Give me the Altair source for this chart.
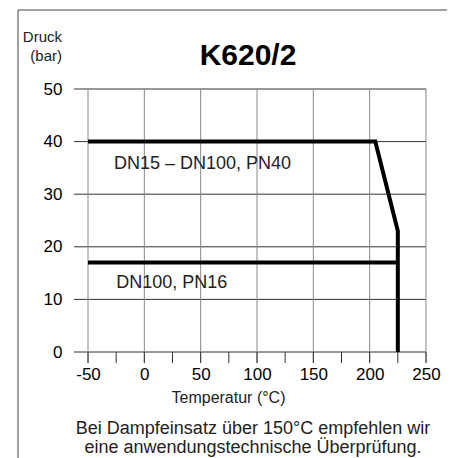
import altair as alt
import pandas as pd

# data
pn40_temp = [-50, 205, 225, 225]
pn40_press = [40, 40, 23, 0]
pn16_temp = [-50, 225]
pn16_press = [17, 17]
x_ticks = [-50, -25, 0, 25, 50, 75, 100, 125, 150, 175, 200, 225, 250]
x_grid = [-50, 0, 50, 100, 150, 200, 250]
y_ticks = [0, 10, 20, 30, 40, 50]
label_texts = ["DN15 – DN100, PN40", "DN100, PN16"]
label_x = [-27, -25]
label_y = [35.8, 13.1]
title_text = "K620/2"
ytitle_lines = ["Druck", "(bar)"]
footnote = ["Bei Dampfeinsatz über 150°C empfehlen wir", "eine anwendungstechnische Überprüfung."]

FONT = "Liberation Sans"
W, H = 338, 263
XTICK, YTICK = 11, 14

xs = alt.Scale(domain=[-50, 250], nice=False, zero=False)
ys = alt.Scale(domain=[0, 50], nice=False, zero=False)

x_axis = alt.Axis(values=x_ticks, ticks=False, domain=False, grid=False,
                  labelFontSize=17, labelFont=FONT, labelColor="#000",
                  labelPadding=XTICK + 3,
                  labelExpr="(datum.value % 50 == 0) ? ('' + datum.value) : ''",
                  labelFlush=False, labelOverlap=False,
                  title="Temperatur (°C)", titleFont=FONT, titleFontSize=16,
                  titleFontWeight="normal", titleColor="#222",
                  titleX=140, titleY=45, titleAnchor="middle", titleBaseline="middle")
y_axis = alt.Axis(values=y_ticks, ticks=False, domain=False, grid=False,
                  labelFontSize=17, labelFont=FONT, labelColor="#000",
                  labelPadding=YTICK + 12, title=None)

lines_df = pd.DataFrame(
    {"t": pn40_temp + pn16_temp,
     "p": pn40_press + pn16_press,
     "s": ["PN40"] * len(pn40_temp) + ["PN16"] * len(pn16_temp),
     "o": list(range(len(pn40_temp))) + list(range(len(pn16_temp)))}
)

frame = alt.Chart(pd.DataFrame({"a": [0]})).mark_rect(
    fill=None, stroke="#444", strokeWidth=1
).encode(x=alt.value(-70), x2=alt.value(362), y=alt.value(-79), y2=alt.value(390))

# horizontal grid lines, extended left as ticks
hgrid_df = pd.DataFrame({"p": y_ticks, "x0": [-62.4] * len(y_ticks), "x1": [250] * len(y_ticks)})
hgrid = alt.Chart(hgrid_df).mark_rule(color="#333", strokeWidth=1).encode(
    y=alt.Y("p:Q", scale=ys, axis=y_axis),
    x=alt.X("x0:Q", scale=xs, axis=x_axis), x2="x1:Q",
)

# vertical grid lines every 50, extended down as ticks
vgrid_df = pd.DataFrame({"t": x_grid, "y0": [-2.1] * len(x_grid), "y1": [50] * len(x_grid)})
vgrid = alt.Chart(vgrid_df).mark_rule(color="#888", strokeWidth=1).encode(
    x=alt.X("t:Q", scale=xs, axis=x_axis),
    y=alt.Y("y0:Q", scale=ys, axis=y_axis), y2="y1:Q",
)

# x ticks every 25 below the axis
xt_df = pd.DataFrame({"t": x_ticks, "y0": [-2.1] * len(x_ticks), "y1": [0] * len(x_ticks)})
xticks = alt.Chart(xt_df).mark_rule(color="#333", strokeWidth=1).encode(
    x=alt.X("t:Q", scale=xs, axis=x_axis),
    y=alt.Y("y0:Q", scale=ys, axis=y_axis), y2="y1:Q",
)

lines = alt.Chart(lines_df).mark_line(color="#000", strokeWidth=4, strokeJoin="miter", strokeCap="butt").encode(
    x=alt.X("t:Q", scale=xs, axis=x_axis),
    y=alt.Y("p:Q", scale=ys, axis=y_axis),
    detail="s:N",
    order="o:Q",
)

labels = alt.Chart(pd.DataFrame({"t": label_x, "p": label_y, "txt": label_texts})).mark_text(
    align="left", baseline="middle", font=FONT, fontSize=18, color="#222"
).encode(x=alt.X("t:Q", scale=xs, axis=x_axis), y=alt.Y("p:Q", scale=ys, axis=y_axis), text="txt:N")

title = alt.Chart(pd.DataFrame({"txt": [title_text]})).mark_text(
    font=FONT, fontSize=30, fontWeight="bold", align="center", baseline="middle", color="#000"
).encode(text="txt:N", x=alt.value(160), y=alt.value(-33))

ytitle = alt.Chart(pd.DataFrame({"txt": ytitle_lines, "yy": [-52, -33]})).mark_text(
    font=FONT, fontSize=15, align="right", baseline="middle", color="#222"
).encode(text="txt:N", x=alt.value(-26), y=alt.Y("yy:Q", scale=None, axis=None))

foot = alt.Chart(pd.DataFrame({"txt": footnote, "yy": [H + 77, H + 96]})).mark_text(
    font=FONT, fontSize=18, align="center", baseline="middle", color="#222"
).encode(text="txt:N", x=alt.value(165), y=alt.Y("yy:Q", scale=None, axis=None))

chart = alt.layer(frame, hgrid, vgrid, xticks, lines, labels, title, ytitle, foot).properties(
    width=W, height=H,
    autosize=alt.AutoSizeParams(type="none"),
    padding={"left": 80, "top": 81, "right": 21, "bottom": 106},
    background="white",
).configure_view(stroke=None)

chart.save("out.html", embed_options={"renderer": "svg", "actions": False})
